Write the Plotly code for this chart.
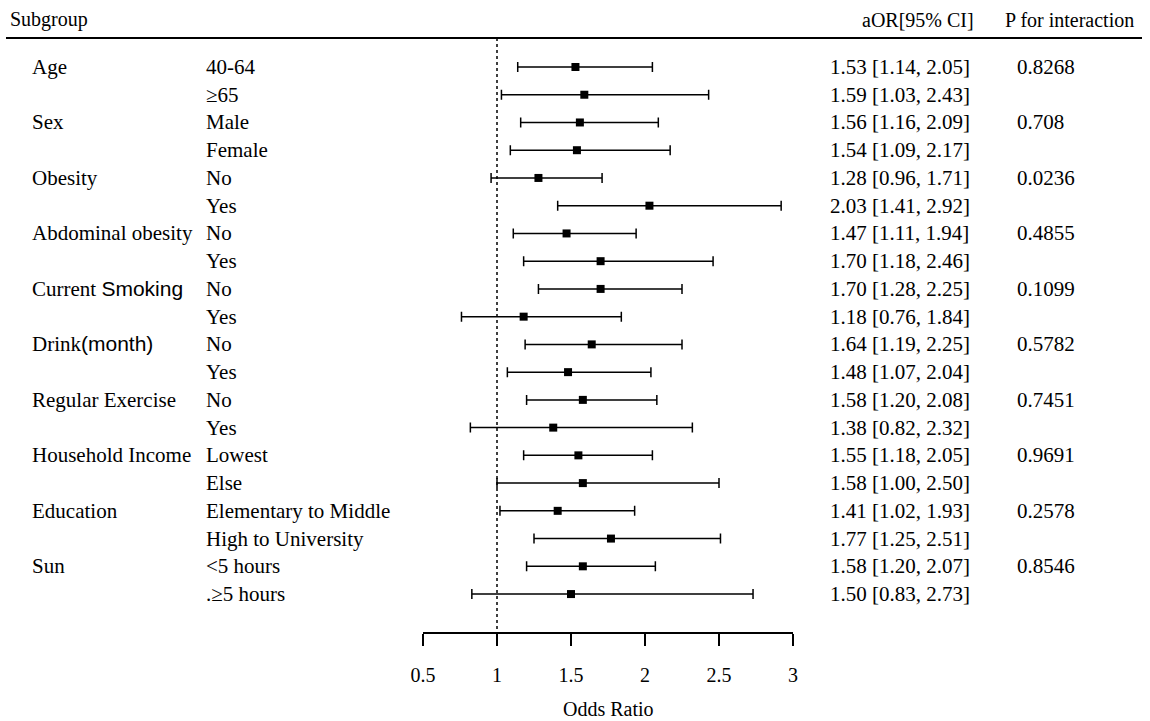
import plotly.graph_objects as go

groups = ["Age", "", "Sex", "", "Obesity", "", "Abdominal obesity", "",
          "Current <span style='font-family:Liberation Sans'>Smoking</span>", "",
          "Drink<span style='font-family:Liberation Sans'>(month)</span>", "",
          "Regular Exercise", "", "Household Income", "", "Education", "", "Sun", ""]
subgroups = ["40-64", "≥65", "Male", "Female", "No", "Yes", "No", "Yes", "No", "Yes",
             "No", "Yes", "No", "Yes", "Lowest", "Else", "Elementary to Middle",
             "High to University", "<5 hours", ".≥5 hours"]
aor = [1.53, 1.59, 1.56, 1.54, 1.28, 2.03, 1.47, 1.70, 1.70, 1.18,
       1.64, 1.48, 1.58, 1.38, 1.55, 1.58, 1.41, 1.77, 1.58, 1.50]
lower = [1.14, 1.03, 1.16, 1.09, 0.96, 1.41, 1.11, 1.18, 1.28, 0.76,
         1.19, 1.07, 1.20, 0.82, 1.18, 1.00, 1.02, 1.25, 1.20, 0.83]
upper = [2.05, 2.43, 2.09, 2.17, 1.71, 2.92, 1.94, 2.46, 2.25, 1.84,
         2.25, 2.04, 2.08, 2.32, 2.05, 2.50, 1.93, 2.51, 2.07, 2.73]
p_inter = ["0.8268", "", "0.708", "", "0.0236", "", "0.4855", "", "0.1099", "",
           "0.5782", "", "0.7451", "", "0.9691", "", "0.2578", "", "0.8546", ""]
tick_vals = [0.5, 1, 1.5, 2, 2.5, 3]
tick_text = ["0.5", "1", "1.5", "2", "2.5", "3"]

W, H = 1150, 721
rows = list(range(1, len(aor) + 1))
SERIF = "Liberation Serif"
FS = 21

def py(pix):
    return 1 - pix / H

fig = go.Figure()
fig.add_trace(go.Scatter(
    x=aor, y=rows, mode="markers",
    marker=dict(symbol="square", size=8, color="black"),
    error_x=dict(type="data", symmetric=False,
                 array=[u - a for u, a in zip(upper, aor)],
                 arrayminus=[a - l for a, l in zip(aor, lower)],
                 color="black", thickness=1.5, width=5),
    showlegend=False, hoverinfo="skip"))

ann = []
def add_text(x, y, text, xanchor="left", yref="y", size=FS):
    ann.append(dict(x=x, y=y, xref="paper", yref=yref, text=text, showarrow=False,
                    xanchor=xanchor, yanchor="middle",
                    font=dict(family=SERIF, size=size, color="black")))

for r, g, s, a, l, u, p in zip(rows, groups, subgroups, aor, lower, upper, p_inter):
    if g:
        add_text(30 / W, r, g)
    add_text(204 / W, r, s)
    add_text(828 / W, r, f"{a:.2f} [{l:.2f}, {u:.2f}]")
    if p:
        add_text(1015 / W, r, p)

add_text(8 / W, py(20), "Subgroup", yref="paper", size=20)
add_text(976 / W, py(20), "aOR[95% CI]", xanchor="right", yref="paper", size=20)
add_text(1136 / W, py(20), "P for interaction", xanchor="right", yref="paper", size=20)
ann.append(dict(x=1.75, y=py(709), xref="x", yref="paper", text="Odds Ratio",
                showarrow=False, xanchor="center", yanchor="middle",
                font=dict(family=SERIF, size=20, color="black")))

shapes = [
    dict(type="line", xref="paper", yref="paper", x0=6 / W, x1=1142 / W,
         y0=py(38), y1=py(38), line=dict(color="black", width=2)),
    dict(type="line", xref="x", yref="paper", x0=1, x1=1,
         y0=py(38), y1=py(633), line=dict(color="black", width=1.5, dash="dot")),
]

fig.update_layout(
    width=W, height=H, margin=dict(l=0, r=0, t=0, b=0),
    paper_bgcolor="white", plot_bgcolor="white",
    annotations=ann, shapes=shapes,
    xaxis=dict(domain=[423 / W, 793 / W], range=[0.5, 3], anchor="free",
               position=py(633), showline=True, linecolor="black", linewidth=1.5,
               ticks="outside", ticklen=12, tickwidth=1.5, tickcolor="black",
               tickvals=tick_vals, ticktext=tick_text, showgrid=False,
               zeroline=False, automargin=False, ticklabelstandoff=12,
               tickfont=dict(family=SERIF, size=20, color="black")),
    yaxis=dict(domain=[0, 1], range=[24.576, -1.415], visible=False,
               showgrid=False, zeroline=False),
)

fig.write_html("out.html", config={"displayModeBar": False},
               post_script="document.body.style.margin='0px';")
